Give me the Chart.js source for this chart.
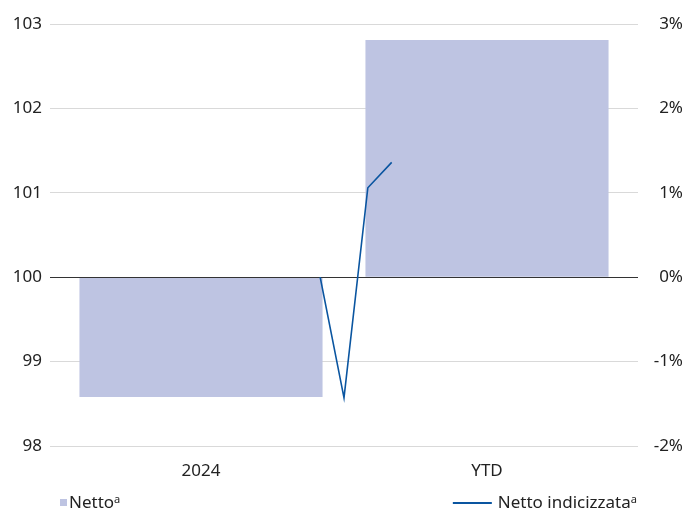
<!DOCTYPE html>
<html><head><meta charset="utf-8">
<script src="https://cdn.jsdelivr.net/npm/chart.js@4"></script>
<style>html,body{margin:0;padding:0;background:#fff}#wrap{width:700px;height:514px;position:relative}</style>
</head><body><div id="wrap"><canvas id="c"></canvas></div>
<script>
const categories = ['2024', 'YTD'];
const nettoValues = [-1.42, 2.81];              // %, right axis
const indexPeriods = [11, 12, 13, 14];           // periods on the hidden time axis
const indexValues = [100, 98.57, 101.06, 101.36]; // index, left axis
const leftTicks = [98, 99, 100, 101, 102, 103];
const rightTicks = [-2, -1, 0, 1, 2, 3];
const seriesNames = ['Netto\u1D43', 'Netto indicizzata\u1D43'];

const FONT = 'Noto Sans';
const TXT = '#222222';
const GRID = '#D9D9D9';
const BAR = '#BEC4E2';
const LINE = '#0A55A0';

const zeroLine = {
  id: 'zeroLine',
  afterDatasetDraw(chart, args) {
    if (args.index !== 0) return;
    const {ctx, chartArea} = chart;
    const y = Math.round(chart.scales.y.getPixelForValue(100)) + 0.5;
    ctx.save();
    ctx.strokeStyle = '#333333';
    ctx.lineWidth = 1;
    ctx.beginPath();
    ctx.moveTo(chartArea.left - 8, y);
    ctx.lineTo(chartArea.right + 8, y);
    ctx.stroke();
    ctx.restore();
  }
};

// legend spread across the full plot width: bar key at left, line key at right
const spreadLegend = {
  id: 'spreadLegend',
  afterDraw(chart) {
    const {ctx, chartArea} = chart;
    const y = chart.height - 11;
    ctx.save();
    ctx.font = '17px "' + FONT + '"';
    ctx.textBaseline = 'middle';
    const x0 = chartArea.left + 2;
    ctx.fillStyle = BAR;
    ctx.fillRect(x0, y - 4, 7, 7);
    ctx.fillStyle = TXT;
    ctx.textAlign = 'left';
    ctx.fillText(seriesNames[0], x0 + 9, y);
    const xr = chartArea.right + 7;
    ctx.textAlign = 'right';
    ctx.fillText(seriesNames[1], xr, y);
    const w = ctx.measureText(seriesNames[1]).width;
    ctx.strokeStyle = LINE;
    ctx.lineWidth = 2;
    ctx.beginPath();
    ctx.moveTo(xr - w - 6, y);
    ctx.lineTo(xr - w - 45, y);
    ctx.stroke();
    ctx.restore();
  }
};

new Chart(document.getElementById('c'), {
  data: {
    labels: categories,
    datasets: [
      {
        type: 'bar', label: seriesNames[0], data: nettoValues,
        backgroundColor: BAR, borderWidth: 0, grouped: false,
        xAxisID: 'x', yAxisID: 'y1',
        barPercentage: 0.85, categoryPercentage: 1, order: 2
      },
      {
        type: 'line', label: seriesNames[1],
        data: indexPeriods.map((p, i) => ({x: p, y: indexValues[i]})),
        borderColor: LINE, borderWidth: 1.6, pointRadius: 0, tension: 0, fill: false,
        xAxisID: 'x2', yAxisID: 'y', order: 1
      }
    ]
  },
  options: {
    responsive: true, maintainAspectRatio: false, animation: false,
    layout: {padding: {left: 0, right: 17, top: 24, bottom: 32}},
    plugins: {
      tooltip: {enabled: false},
      legend: {display: false}
    },
    scales: {
      x: {
        type: 'category', offset: true,
        grid: {display: false, drawTicks: false}, border: {display: false},
        ticks: {color: TXT, font: {family: FONT, size: 17}, padding: 15, maxRotation: 0},
        afterFit(s) { s.height = 36; }
      },
      x2: {type: 'linear', display: false, offset: false, min: 0, max: 24},
      y: {
        position: 'left', min: 98, max: 103,
        afterBuildTicks(s) { s.ticks = leftTicks.map(v => ({value: v})); },
        grid: {color: c => (c.tick && c.tick.value === 100 ? '#333333' : GRID), tickLength: 8},
        border: {display: false},
        ticks: {color: TXT, font: {family: FONT, size: 17}, padding: 8},
        afterFit(s) { s.width = 58; }
      },
      y1: {
        position: 'right', min: -2, max: 3,
        afterBuildTicks(s) { s.ticks = rightTicks.map(v => ({value: v})); },
        grid: {drawOnChartArea: false, color: c => (c.tick && c.tick.value === 0 ? '#333333' : GRID), tickLength: 8},
        border: {display: false},
        ticks: {color: TXT, font: {family: FONT, size: 17}, padding: 8, crossAlign: 'far', callback: v => v + '%'},
        afterFit(s) { s.width = 53; }
      }
    }
  },
  plugins: [zeroLine, spreadLegend]
});
</script></body></html>
